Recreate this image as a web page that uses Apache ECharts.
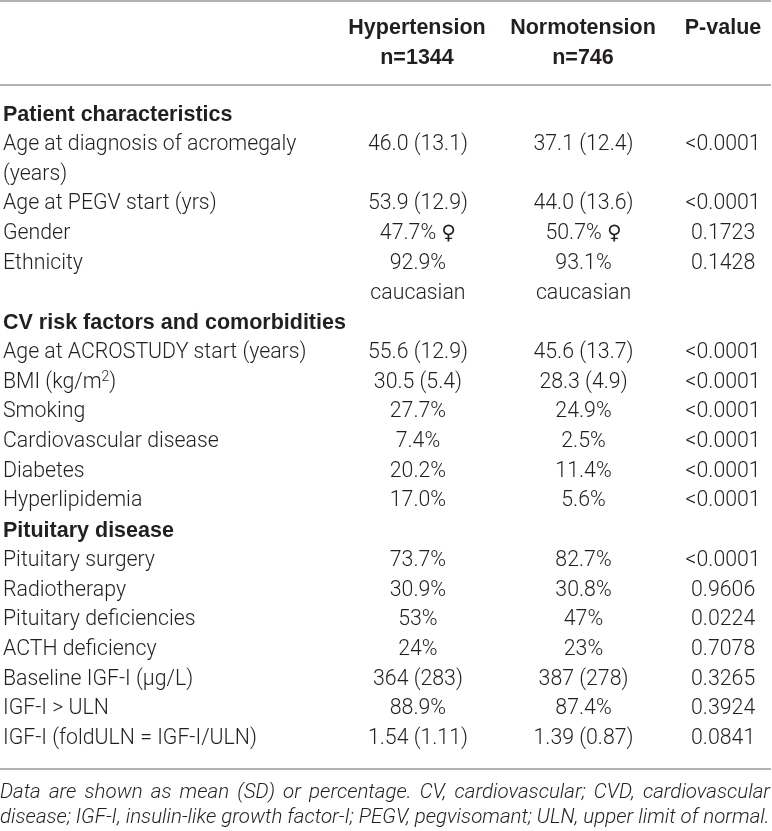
<!DOCTYPE html>
<html>
<head>
<meta charset="utf-8">
<script src="https://cdn.jsdelivr.net/npm/echarts@6/dist/echarts.min.js"></script>
<style>
  html, body { margin: 0; padding: 0; background: #fff; }
  #main { width: 772px; height: 831px; }
</style>
</head>
<body>
<div id="main"></div>
<script>
// row labels (first column), top to bottom
var rowLabels = [
    'Patient characteristics',
    'Age at diagnosis of acromegaly',
    '(years)',
    'Age at PEGV start (yrs)',
    'Gender',
    'Ethnicity',
    '',
    'CV risk factors and comorbidities',
    'Age at ACROSTUDY start (years)',
    'BMI (kg/m2)',
    'Smoking',
    'Cardiovascular disease',
    'Diabetes',
    'Hyperlipidemia',
    'Pituitary disease',
    'Pituitary surgery',
    'Radiotherapy',
    'Pituitary deficiencies',
    'ACTH deficiency',
    'Baseline IGF-I (µg/L)',
    'IGF-I > ULN',
    'IGF-I (foldULN = IGF-I/ULN)'
];
var sectionRows = ['Patient characteristics', 'CV risk factors and comorbidities', 'Pituitary disease'];

var headers = [['Hypertension', 'n=1344'], ['Normotension', 'n=746'], ['P-value', '']];

var hyperValues = ['', '46.0 (13.1)', '', '53.9 (12.9)', '47.7% ♀', '92.9%', 'caucasian', '',
    '55.6 (12.9)', '30.5 (5.4)', '27.7%', '7.4%', '20.2%', '17.0%', '',
    '73.7%', '30.9%', '53%', '24%', '364 (283)', '88.9%', '1.54 (1.11)'];
var normoValues = ['', '37.1 (12.4)', '', '44.0 (13.6)', '50.7% ♀', '93.1%', 'caucasian', '',
    '45.6 (13.7)', '28.3 (4.9)', '24.9%', '2.5%', '11.4%', '5.6%', '',
    '82.7%', '30.8%', '47%', '23%', '387 (278)', '87.4%', '1.39 (0.87)'];
var pValues = ['', '<0.0001', '', '<0.0001', '0.1723', '0.1428', '', '',
    '<0.0001', '<0.0001', '<0.0001', '<0.0001', '<0.0001', '<0.0001', '',
    '<0.0001', '0.9606', '0.0224', '0.7078', '0.3265', '0.3924', '0.0841'];

var footnote = [
    'Data are shown as mean (SD) or percentage. CV, cardiovascular; CVD, cardiovascular',
    'disease; IGF-I, insulin-like growth factor-I; PEGV, pegvisomant; ULN, upper limit of normal.'
];

// layout
var FONT = 'Roboto, "Liberation Sans", sans-serif';
var BOLD_FONT = '"Liberation Sans", Arial, sans-serif';
var FS = 21.3;
var BFS = 21.5;
var NOTE_FS = 20.5;
var TEXT_COLOR = '#231f20';
var LINE_COLOR = '#9a9a9a';
var COL_X = [417, 583, 723];
var TABLE_W = 770;
var columns = [hyperValues, normoValues, pValues];

var myChart = echarts.init(document.getElementById('main'));

var graphics = [];
// rules
[1, 85, 769].forEach(function (y) {
    graphics.push({
        type: 'line',
        shape: { x1: 0, y1: y, x2: 771, y2: y },
        style: { stroke: LINE_COLOR, lineWidth: 1.5 }
    });
});
// column headers
headers.forEach(function (h, c) {
    h.forEach(function (t, k) {
        if (!t) return;
        graphics.push({
            type: 'text',
            x: COL_X[c], y: k === 0 ? 28 : 58,
            style: {
                text: t, align: 'center', verticalAlign: 'middle',
                fontFamily: BOLD_FONT, fontSize: BFS, fontWeight: 'bold', fill: TEXT_COLOR
            }
        });
    });
});

// footnote: first line justified to the table width, second line left
var measure = document.createElement('canvas').getContext('2d');
measure.font = 'italic 300 ' + NOTE_FS + 'px ' + FONT;
var noteStyle = {
    align: 'left', verticalAlign: 'middle',
    fontFamily: FONT, fontSize: NOTE_FS, fontStyle: 'italic', fontWeight: 300, fill: TEXT_COLOR
};
var words = footnote[0].split(' ');
var wordsW = words.reduce(function (s, w) { return s + measure.measureText(w).width; }, 0);
var gap = (TABLE_W - wordsW) / (words.length - 1);
var cx = 0;
words.forEach(function (w) {
    graphics.push({ type: 'text', x: cx, y: 793, style: Object.assign({ text: w }, noteStyle) });
    cx += measure.measureText(w).width + gap;
});
graphics.push({ type: 'text', x: 0, y: 818, style: Object.assign({ text: footnote[1] }, noteStyle) });

var option = {
    animation: false,
    grid: { left: 0, right: 0, top: 100.15, bottom: 77.45 },
    xAxis: { type: 'value', min: 0, max: 772, show: false },
    yAxis: {
        type: 'category',
        inverse: true,
        data: rowLabels,
        axisLine: { show: false },
        axisTick: { show: false },
        splitLine: { show: false },
        axisLabel: {
            inside: true,
            align: 'left',
            margin: 1,
            fontFamily: FONT,
            fontSize: FS,
            fontWeight: 300,
            color: TEXT_COLOR,
            formatter: function (value) {
                if (sectionRows.indexOf(value) >= 0) {
                    return '{b|' + value + '}';
                }
                if (value === 'BMI (kg/m2)') {
                    return '{t|BMI (kg/m}{s|2}{t|)}';
                }
                return value;
            },
            rich: {
                b: { fontFamily: BOLD_FONT, fontSize: BFS, fontWeight: 'bold', color: TEXT_COLOR },
                t: { fontFamily: FONT, fontSize: FS, fontWeight: 300, color: TEXT_COLOR },
                s: { fontFamily: FONT, fontSize: 14, fontWeight: 300, color: TEXT_COLOR, verticalAlign: 'top', padding: [0, 0, 9, 0] }
            }
        }
    },
    graphic: graphics,
    series: [{
        type: 'custom',
        data: rowLabels.map(function (r, i) { return [0, i]; }),
        encode: { x: 0, y: 1 },
        renderItem: function (params, api) {
            var i = api.value(1);
            var children = columns.map(function (arr, c) {
                var pt = api.coord([COL_X[c], i]);
                return {
                    type: 'text',
                    x: pt[0], y: pt[1],
                    style: {
                        text: arr[i].replace('♀', '{f|♀}'),
                        align: 'center', verticalAlign: 'middle',
                        fontFamily: FONT, fontSize: FS, fontWeight: 300, fill: TEXT_COLOR,
                        rich: {
                            f: { fontFamily: '"DejaVu Sans", sans-serif', fontSize: 20, fill: TEXT_COLOR }
                        }
                    }
                };
            });
            return { type: 'group', children: children };
        }
    }]
};
if (option && typeof option === "object") {
    myChart.setOption(option, true);
}
</script>
</body>
</html>
